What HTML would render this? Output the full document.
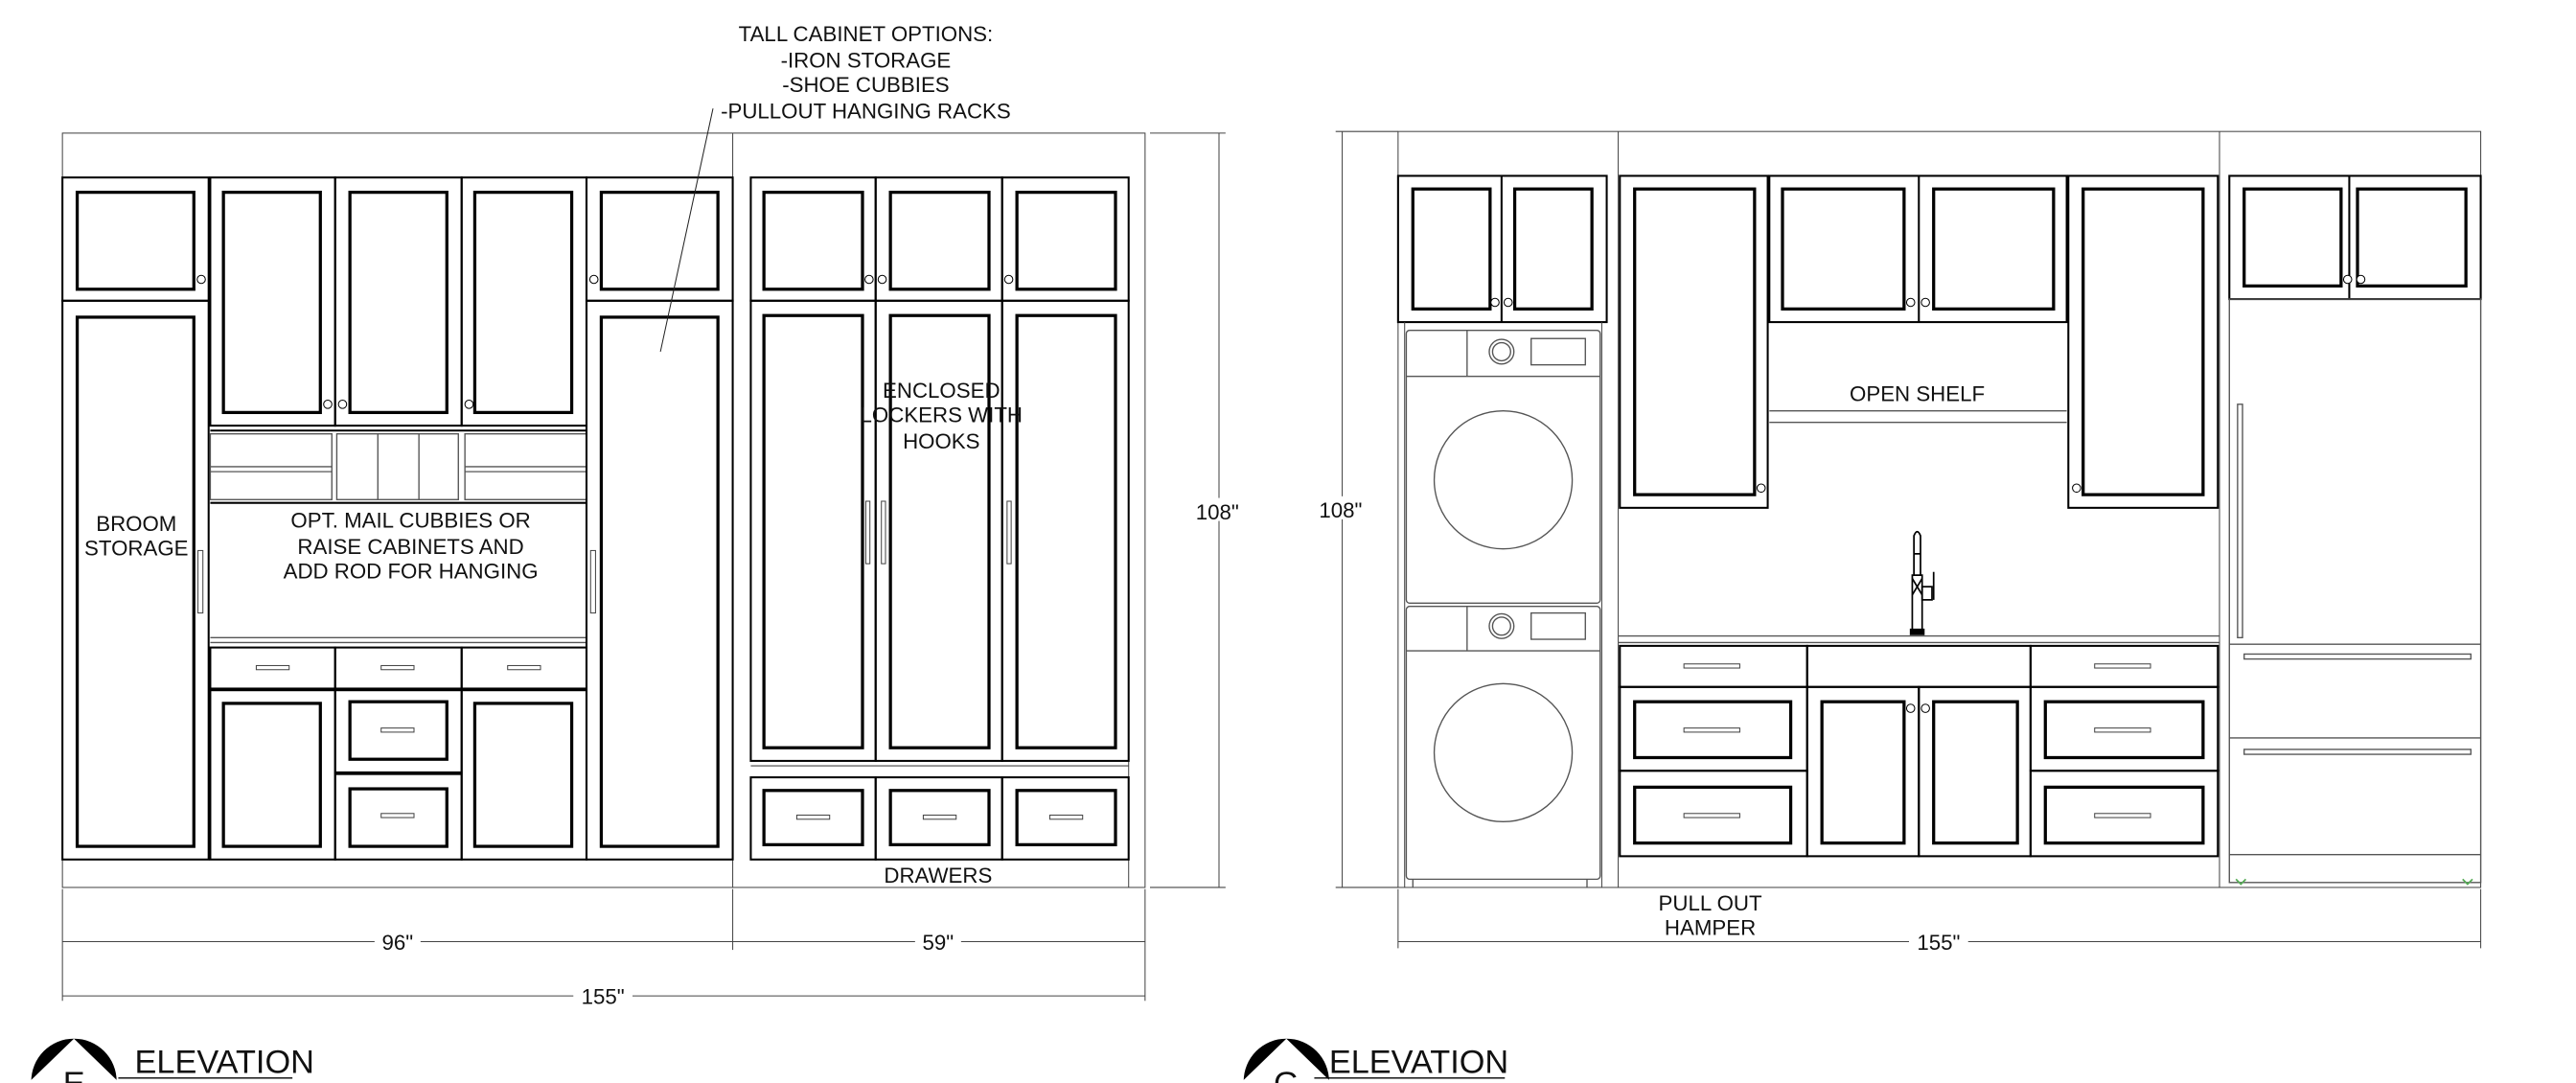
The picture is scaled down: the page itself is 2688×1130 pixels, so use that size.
<!DOCTYPE html>
<html><head><meta charset="utf-8"><style>
html,body{margin:0;padding:0;background:#fff;overflow:hidden;width:2688px;height:1130px}
svg{display:block}
.b{fill:none;stroke:#000;stroke-width:1.2}
.d{fill:none;stroke:#000;stroke-width:1.9}
.t{fill:none;stroke:#444;stroke-width:.6}
.g{fill:none;stroke:#555;stroke-width:.8}
.k{fill:#fff;stroke:#000;stroke-width:.6}
text{font-family:"Liberation Sans",sans-serif;font-size:13px;fill:#111;text-anchor:middle}
.lb{fill:#fff;stroke:none}
</style></head><body>
<svg width="2688" height="1130" viewBox="0 0 1568 659" preserveAspectRatio="none" xmlns="http://www.w3.org/2000/svg">
<g>
<rect class="t" x="38" y="81" width="659" height="459"/>
<line class="t" x1="446" y1="81" x2="446" y2="540"/>
<line class="t" x1="687" y1="108" x2="687" y2="540"/>
<line class="t" x1="38" y1="523" x2="446" y2="523"/>
<rect class="b" x="38" y="108" width="89" height="75"/>
<rect class="d" x="47" y="117" width="71" height="59"/>
<circle class="k" cx="122.5" cy="170" r="2.5"/>
<rect class="b" x="38" y="183" width="89" height="340"/>
<rect class="d" x="47" y="193" width="71" height="322"/>
<rect class="t" x="120.5" y="335" width="3" height="38"/>
<rect class="b" x="128" y="108" width="76" height="151"/>
<rect class="b" x="204" y="108" width="77" height="151"/>
<rect class="b" x="281" y="108" width="76" height="151"/>
<rect class="d" x="136" y="117" width="59" height="134"/>
<rect class="d" x="213" y="117" width="59" height="134"/>
<rect class="d" x="289" y="117" width="59" height="134"/>
<circle class="k" cx="199.5" cy="246" r="2.5"/>
<circle class="k" cx="208.5" cy="246" r="2.5"/>
<circle class="k" cx="285.5" cy="246" r="2.5"/>
<line class="b" x1="128" y1="262" x2="357" y2="262"/>
<rect class="g" x="128" y="264" width="74" height="40"/>
<line class="g" x1="128" y1="284" x2="202" y2="284"/>
<line class="g" x1="128" y1="287" x2="202" y2="287"/>
<rect class="g" x="205" y="264" width="74" height="40"/>
<line class="g" x1="230" y1="264" x2="230" y2="304"/>
<line class="g" x1="255" y1="264" x2="255" y2="304"/>
<rect class="g" x="283" y="264" width="74" height="40"/>
<line class="g" x1="283" y1="284" x2="357" y2="284"/>
<line class="g" x1="283" y1="287" x2="357" y2="287"/>
<line class="b" x1="128" y1="306" x2="357" y2="306"/>
<line class="g" x1="128" y1="388" x2="357" y2="388"/>
<line class="g" x1="128" y1="391" x2="357" y2="391"/>
<text x="250" y="321">OPT. MAIL CUBBIES OR</text>
<text x="250" y="337">RAISE CABINETS AND</text>
<text x="250" y="352">ADD ROD FOR HANGING</text>
<text x="83" y="323">BROOM</text>
<text x="83" y="338">STORAGE</text>
<rect class="b" x="128" y="394" width="76" height="25"/>
<rect class="b" x="204" y="394" width="77" height="25"/>
<rect class="b" x="281" y="394" width="76" height="25"/>
<rect class="t" x="156" y="405" width="20" height="2.5"/>
<rect class="t" x="232" y="405" width="20" height="2.5"/>
<rect class="t" x="309" y="405" width="20" height="2.5"/>
<rect class="b" x="128" y="420" width="76" height="103"/>
<rect class="d" x="136" y="428" width="59" height="87"/>
<rect class="b" x="204" y="420" width="77" height="50"/>
<rect class="d" x="213" y="427" width="59" height="35"/>
<rect class="t" x="232" y="443" width="20" height="2.5"/>
<rect class="b" x="204" y="471" width="77" height="52"/>
<rect class="d" x="213" y="480" width="59" height="35"/>
<rect class="t" x="232" y="495" width="20" height="2.5"/>
<rect class="b" x="281" y="420" width="76" height="103"/>
<rect class="d" x="289" y="428" width="59" height="87"/>
<rect class="b" x="357" y="108" width="89" height="75"/>
<rect class="d" x="366" y="117" width="71" height="59"/>
<circle class="k" cx="361.5" cy="170" r="2.5"/>
<rect class="b" x="357" y="183" width="89" height="340"/>
<rect class="d" x="366" y="193" width="71" height="322"/>
<rect class="t" x="359.5" y="335" width="3" height="38"/>
<rect class="b" x="457" y="108" width="76" height="75"/>
<rect class="b" x="533" y="108" width="77" height="75"/>
<rect class="b" x="610" y="108" width="77" height="75"/>
<rect class="d" x="465" y="117" width="60" height="59"/>
<rect class="d" x="542" y="117" width="60" height="59"/>
<rect class="d" x="619" y="117" width="60" height="59"/>
<circle class="k" cx="529" cy="170" r="2.5"/>
<circle class="k" cx="537" cy="170" r="2.5"/>
<circle class="k" cx="614" cy="170" r="2.5"/>
<rect class="b" x="457" y="183" width="76" height="280"/>
<rect class="b" x="533" y="183" width="77" height="280"/>
<rect class="b" x="610" y="183" width="77" height="280"/>
<rect class="d" x="465" y="192" width="60" height="263"/>
<rect class="d" x="542" y="192" width="60" height="263"/>
<rect class="d" x="619" y="192" width="60" height="263"/>
<rect class="t" x="527" y="305" width="2.5" height="38"/>
<rect class="t" x="536.5" y="305" width="2.5" height="38"/>
<rect class="t" x="613" y="305" width="2.5" height="38"/>
<line class="t" x1="457" y1="466" x2="687" y2="466"/>
<rect class="b" x="457" y="473" width="76" height="50"/>
<rect class="b" x="533" y="473" width="77" height="50"/>
<rect class="b" x="610" y="473" width="77" height="50"/>
<rect class="d" x="465" y="481" width="60" height="33"/>
<rect class="d" x="542" y="481" width="60" height="33"/>
<rect class="d" x="619" y="481" width="60" height="33"/>
<rect class="t" x="485" y="496" width="20" height="2.5"/>
<rect class="t" x="562" y="496" width="20" height="2.5"/>
<rect class="t" x="639" y="496" width="20" height="2.5"/>
<text x="573" y="242">ENCLOSED</text>
<text x="573" y="257">LOCKERS WITH</text>
<text x="573" y="273">HOOKS</text>
<text x="571" y="537">DRAWERS</text>
<text x="527" y="25">TALL CABINET OPTIONS:</text>
<text x="527" y="41">-IRON STORAGE</text>
<text x="527" y="56">-SHOE CUBBIES</text>
<text x="527" y="72">-PULLOUT HANGING RACKS</text>
<line class="t" x1="434" y1="66" x2="402" y2="214" style="stroke:#222"/>
<line class="t" x1="38" y1="541" x2="38" y2="609"/>
<line class="t" x1="446" y1="541" x2="446" y2="578"/>
<line class="t" x1="697" y1="541" x2="697" y2="609"/>
<line class="t" x1="38" y1="573" x2="697" y2="573"/>
<line class="t" x1="38" y1="606" x2="697" y2="606"/>
<rect class="lb" x="228" y="565" width="28" height="14"/>
<text x="242" y="578">96"</text>
<rect class="lb" x="557" y="565" width="28" height="14"/>
<text x="571" y="578">59"</text>
<rect class="lb" x="349" y="598" width="36" height="14"/>
<text x="367" y="611">155"</text>
<line class="t" x1="700" y1="81" x2="746" y2="81"/>
<line class="t" x1="700" y1="540" x2="746" y2="540"/>
<line class="t" x1="742" y1="81" x2="742" y2="540"/>
<rect class="lb" x="726" y="303" width="32" height="14"/>
<text x="741" y="316">108"</text>
<circle cx="45" cy="658" r="26" fill="#000"/>
<polygon points="45,632 14,662 76,662" fill="#fff"/>
<text x="45" y="666" style="font-size:20px">E</text>
<text x="82" y="653" style="text-anchor:start;font-size:20px">ELEVATION</text>
<line x1="72" y1="656" x2="178" y2="656" stroke="#000" stroke-width=".8"/>
</g>
<g>
<rect class="t" x="851" y="80" width="659" height="460"/>
<line class="t" x1="985" y1="80" x2="985" y2="540"/>
<line class="t" x1="1351" y1="80" x2="1351" y2="540"/>
<rect class="b" x="851" y="107" width="127" height="89"/>
<line class="b" x1="914" y1="107" x2="914" y2="196"/>
<rect class="d" x="860" y="115" width="47" height="73"/>
<rect class="d" x="922" y="115" width="47" height="73"/>
<circle class="k" cx="910" cy="184" r="2.5"/>
<circle class="k" cx="918" cy="184" r="2.5"/>
<line class="t" x1="855" y1="196" x2="855" y2="540"/>
<line class="t" x1="975" y1="196" x2="975" y2="540"/>
<rect class="g" x="856" y="201" width="118" height="166" rx="2"/>
<line class="g" x1="856" y1="229" x2="974" y2="229"/>
<line class="g" x1="893" y1="201" x2="893" y2="229"/>
<circle class="g" cx="914" cy="214" r="7.5"/>
<circle class="g" cx="914" cy="214" r="5.5"/>
<rect class="g" x="932" y="206" width="33" height="16"/>
<circle class="g" cx="915" cy="292" r="42"/>
<rect class="g" x="856" y="369" width="118" height="166" rx="2"/>
<line class="g" x1="856" y1="396" x2="974" y2="396"/>
<line class="g" x1="893" y1="369" x2="893" y2="396"/>
<circle class="g" cx="914" cy="381" r="7.5"/>
<circle class="g" cx="914" cy="381" r="5.5"/>
<rect class="g" x="932" y="373" width="33" height="16"/>
<circle class="g" cx="915" cy="458" r="42"/>
<line class="g" x1="860" y1="535" x2="860" y2="540"/>
<line class="g" x1="966" y1="535" x2="966" y2="540"/>
<rect class="b" x="986" y="107" width="90" height="202"/>
<rect class="d" x="995" y="115" width="73" height="186"/>
<circle class="k" cx="1072" cy="297" r="2.5"/>
<rect class="b" x="1077" y="107" width="181" height="89"/>
<line class="b" x1="1168" y1="107" x2="1168" y2="196"/>
<rect class="d" x="1085" y="115" width="74" height="73"/>
<rect class="d" x="1177" y="115" width="73" height="73"/>
<circle class="k" cx="1163" cy="184" r="2.5"/>
<circle class="k" cx="1172" cy="184" r="2.5"/>
<rect class="b" x="1259" y="107" width="91" height="202"/>
<rect class="d" x="1268" y="115" width="73" height="186"/>
<circle class="k" cx="1264" cy="297" r="2.5"/>
<text x="1167" y="244">OPEN SHELF</text>
<line class="g" x1="1077" y1="250" x2="1258" y2="250"/>
<line class="g" x1="1077" y1="257" x2="1258" y2="257"/>
<g fill="none" stroke="#000" stroke-width="1" transform="translate(14,0)">
<path d="M1151,350 L1151,326 Q1153,321 1155,326 L1155,350"/>
<line x1="1151" y1="337" x2="1155" y2="337"/>
<path d="M1150,350 L1156,350 L1156,384 L1150,384 Z"/>
<path d="M1150,352 L1153,357 L1156,352 M1150,362 L1153,357 L1156,362"/>
<rect x="1156" y="357" width="6" height="8"/>
<line x1="1163" y1="348" x2="1163" y2="365"/>
<rect x="1149" y="383" width="8" height="3" fill="#000"/>
</g>
<line class="g" x1="985" y1="387" x2="1351" y2="387"/>
<line class="g" x1="985" y1="391" x2="1351" y2="391"/>
<rect class="b" x="986" y="393" width="114" height="25"/>
<rect class="b" x="1100" y="393" width="136" height="25"/>
<rect class="b" x="1236" y="393" width="114" height="25"/>
<rect class="t" x="1025" y="404" width="34" height="2.5"/>
<rect class="t" x="1275" y="404" width="34" height="2.5"/>
<rect class="b" x="986" y="418" width="114" height="51"/>
<rect class="d" x="995" y="427" width="95" height="34"/>
<rect class="t" x="1025" y="443" width="34" height="2.5"/>
<rect class="b" x="986" y="469" width="114" height="52"/>
<rect class="d" x="995" y="479" width="95" height="34"/>
<rect class="t" x="1025" y="495" width="34" height="2.5"/>
<rect class="b" x="1100" y="418" width="68" height="103"/>
<rect class="b" x="1168" y="418" width="68" height="103"/>
<rect class="d" x="1109" y="427" width="50" height="86"/>
<rect class="d" x="1177" y="427" width="51" height="86"/>
<circle class="k" cx="1163" cy="431" r="2.5"/>
<circle class="k" cx="1172" cy="431" r="2.5"/>
<rect class="b" x="1236" y="418" width="114" height="51"/>
<rect class="d" x="1245" y="427" width="96" height="34"/>
<rect class="t" x="1275" y="443" width="34" height="2.5"/>
<rect class="b" x="1236" y="469" width="114" height="52"/>
<rect class="d" x="1245" y="479" width="96" height="34"/>
<rect class="t" x="1275" y="495" width="34" height="2.5"/>
<rect class="b" x="1357" y="107" width="153" height="75"/>
<line class="b" x1="1430" y1="107" x2="1430" y2="182"/>
<rect class="d" x="1366" y="115" width="59" height="59"/>
<rect class="d" x="1435" y="115" width="66" height="59"/>
<circle class="k" cx="1429" cy="170" r="2.5"/>
<circle class="k" cx="1437" cy="170" r="2.5"/>
<rect class="g" x="1357" y="182" width="153" height="355"/>
<line class="g" x1="1357" y1="392" x2="1510" y2="392"/>
<line class="g" x1="1357" y1="449" x2="1510" y2="449"/>
<line class="g" x1="1357" y1="520" x2="1510" y2="520"/>
<rect class="g" x="1362" y="246" width="3" height="142"/>
<rect class="g" x="1366" y="398" width="138" height="3"/>
<rect class="g" x="1366" y="456" width="138" height="3"/>
<path d="M1361,535 l3,3 l3,-3 M1499,535 l3,3 l3,-3" stroke="#5a5" fill="none" stroke-width="1"/>
<line class="t" x1="813" y1="80" x2="851" y2="80"/>
<line class="t" x1="813" y1="540" x2="851" y2="540"/>
<line class="t" x1="817" y1="80" x2="817" y2="540"/>
<rect class="lb" x="801" y="302" width="32" height="14"/>
<text x="816" y="315">108"</text>
<line class="t" x1="851" y1="541" x2="851" y2="577"/>
<line class="t" x1="1510" y1="541" x2="1510" y2="577"/>
<line class="t" x1="851" y1="573" x2="1510" y2="573"/>
<rect class="lb" x="1162" y="565" width="36" height="14"/>
<text x="1180" y="578">155"</text>
<text x="1041" y="554">PULL OUT</text>
<text x="1041" y="569">HAMPER</text>
<circle cx="783" cy="658" r="26" fill="#000"/>
<polygon points="783,632 752,662 814,662" fill="#fff"/>
<text x="783" y="666" style="font-size:20px">G</text>
<text x="809" y="653" style="text-anchor:start;font-size:20px">ELEVATION</text>
<line x1="800" y1="656" x2="916" y2="656" stroke="#000" stroke-width=".8"/>
</g>
</svg>
</body></html>
